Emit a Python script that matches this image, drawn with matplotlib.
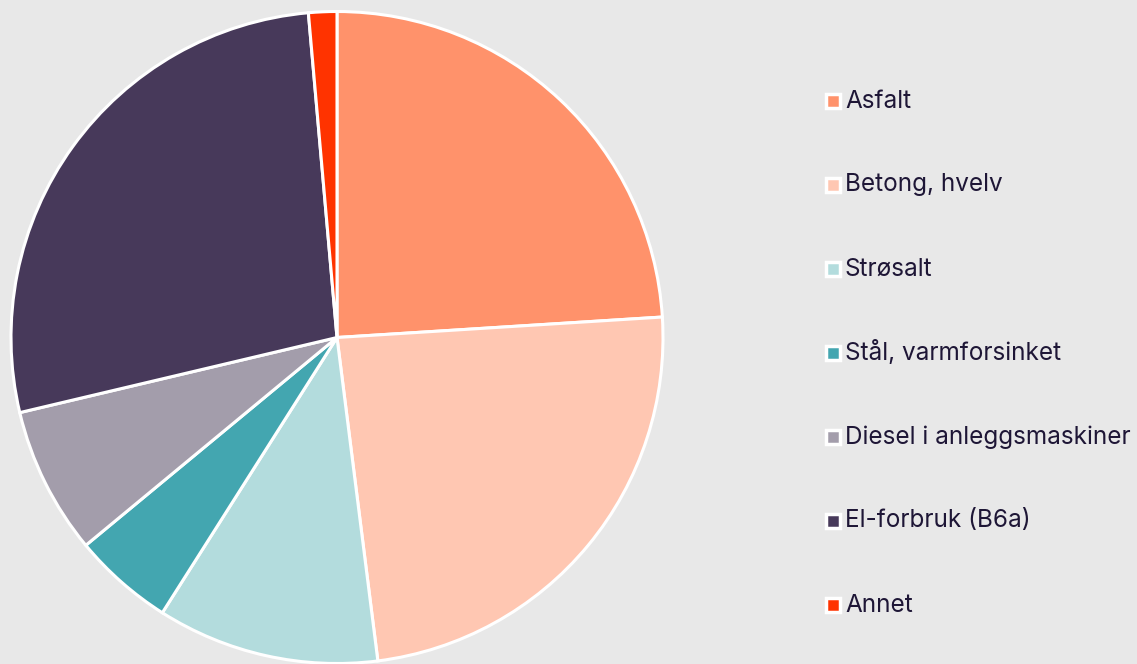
import matplotlib
matplotlib.use("Agg")
import matplotlib.pyplot as plt
from matplotlib.patches import Rectangle

plt.rcParams['font.family'] = ['Inter', 'DejaVu Sans']

# data (percent shares)
categories = ["Asfalt", "Betong, hvelv", "Strøsalt", "Stål, varmforsinket",
              "Diesel i anleggsmaskiner", "El-forbruk (B6a)", "Annet"]
shares = [24.0, 24.0, 11.0, 5.0, 7.3, 27.3, 1.4]
colors = ["#FF926B", "#FFC7B2", "#B3DCDD", "#43A6B0", "#A39DAB", "#47395A", "#FF3300"]

W, H = 1137, 664
bg = "#E8E8E8"
text_col = "#1E1636"

fig = plt.figure(figsize=(W / 100, H / 100), dpi=100, facecolor=bg)

# pie: center (337, 337.5) px, radius ~326 px
cx, cy, r = 337, 337.5, 326
ax = fig.add_axes([(cx - r) / W, (H - cy - r) / H, 2 * r / W, 2 * r / H])
ax.pie(shares, colors=colors, startangle=90, counterclock=False,
       radius=1.0, wedgeprops=dict(edgecolor="white", linewidth=2.2))
ax.set_xlim(-1.0, 1.0)
ax.set_ylim(-1.0, 1.0)
ax.set_aspect("equal")
ax.axis("off")

# legend drawn in pixel coordinates
lax = fig.add_axes([0, 0, 1, 1], facecolor="none")
lax.set_xlim(0, W)
lax.set_ylim(H, 0)
lax.axis("off")

y0, step = 101, 84
for i, (lab, col) in enumerate(zip(categories, colors)):
    y = y0 + i * step
    lax.add_patch(Rectangle((826, y - 7), 14, 14, facecolor=col,
                            edgecolor="white", linewidth=2.5))
    lax.text(845, y, lab, fontsize=17.5, color=text_col, va="center", ha="left")

fig.savefig("out.png", dpi=100, facecolor=bg)
